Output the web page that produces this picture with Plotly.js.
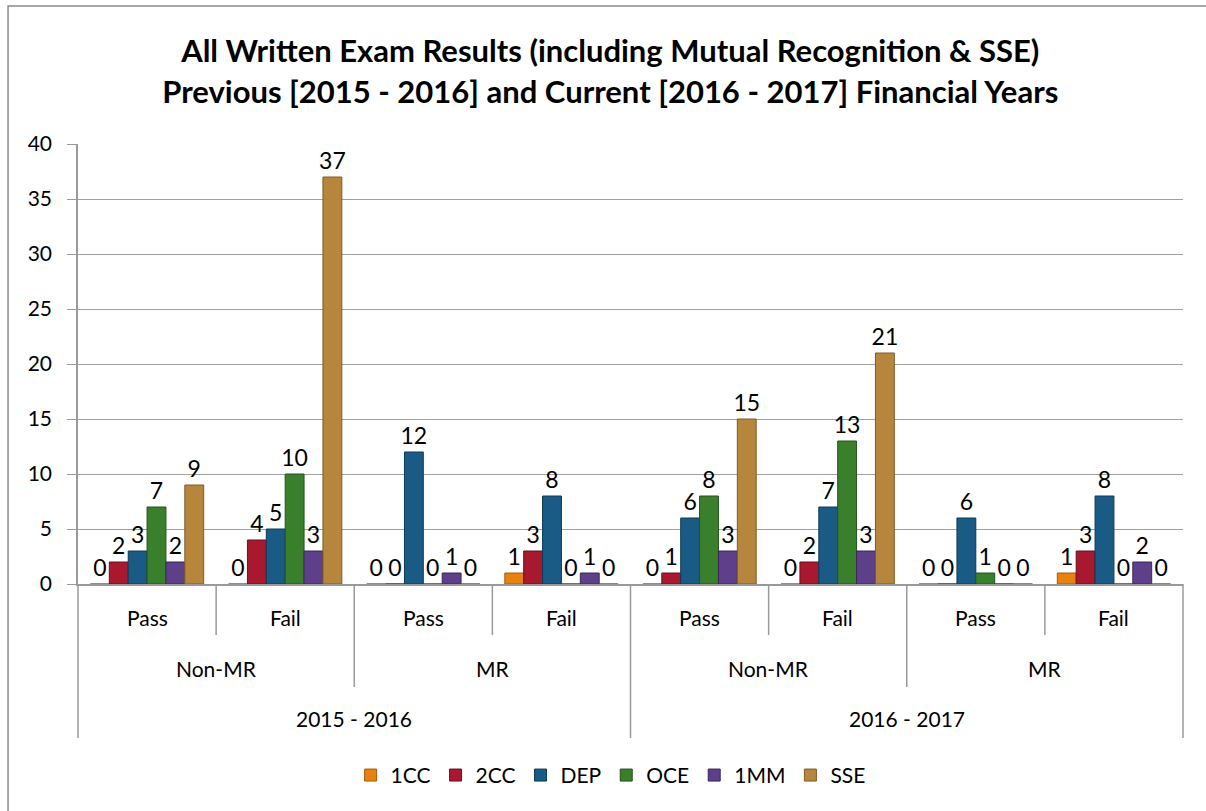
<!DOCTYPE html>
<html>
<head>
<meta charset="utf-8">
<script src="https://cdn.plot.ly/plotly-3.0.1.min.js"></script>
<style>html,body{margin:0;padding:0;background:#fff;}#chart{width:1206px;height:811px;}</style>
</head>
<body>
<div id="chart"></div>
<script>
// ---- Data ----
const years   = ['2015 - 2016', '2016 - 2017'];          // each spans 4 categories
const groups  = ['Non-MR', 'MR', 'Non-MR', 'MR'];          // each spans 2 categories
const results = ['Pass', 'Fail', 'Pass', 'Fail', 'Pass', 'Fail', 'Pass', 'Fail'];

const seriesNames = ['1CC', '2CC', 'DEP', 'OCE', '1MM', 'SSE'];
const v1CC = [0, 0, 0, 1, 0, 0, 0, 1];
const v2CC = [2, 4, 0, 3, 1, 2, 0, 3];
const vDEP = [3, 5, 12, 8, 6, 7, 6, 8];
const vOCE = [7, 10, 0, 0, 8, 13, 1, 0];
const v1MM = [2, 3, 1, 1, 3, 3, 0, 2];
const vSSE = [9, 37, 0, 0, 15, 21, 0, 0];

const yTicks = [0, 5, 10, 15, 20, 25, 30, 35, 40];

// ---- Styles ----
const colors = ['#E8820F', '#A8192F', '#1A5B85', '#3A7F2C', '#5E3F8A', '#B5863C'];
const edges  = ['#A85A06', '#6E0F1E', '#0F3A57', '#24521B', '#3B2759', '#7D5B26'];
const FONT = 'Lato, "Open Sans", sans-serif';

const nCat = results.length;
const perGroup = nCat / groups.length;
const perYear = nCat / years.length;
const keys = results.map((r, i) => years[Math.floor(i / perYear)] + '|' + groups[Math.floor(i / perGroup)] + '|' + r + '|' + i);

const values = [v1CC, v2CC, vDEP, vOCE, v1MM, vSSE];
const traces = seriesNames.map((name, s) => ({
  type: 'bar',
  name: name,
  x: keys,
  y: values[s],
  text: values[s].map(String),
  textposition: 'outside',
  constraintext: 'none',
  cliponaxis: false,
  textfont: {family: FONT, size: 23, color: '#000'},
  marker: {color: colors[s], line: {color: edges[s], width: 1}},
  hoverinfo: 'x+y+name'
}));

// ---- Hierarchical category labels & dividers ----
const annotations = [];
const shapes = [];
const labFont = {family: FONT, size: 21, color: '#000'};
results.forEach((r, i) => annotations.push({
  x: i, xref: 'x', y: -0.077, yref: 'paper', text: r, showarrow: false,
  font: labFont, yanchor: 'middle'
}));
groups.forEach((g, j) => annotations.push({
  x: j * perGroup + (perGroup - 1) / 2, xref: 'x', y: -0.191, yref: 'paper', text: g, showarrow: false,
  font: labFont, yanchor: 'middle'
}));
years.forEach((yv, j) => annotations.push({
  x: j * perYear + (perYear - 1) / 2, xref: 'x', y: -0.305, yref: 'paper', text: yv, showarrow: false,
  font: labFont, yanchor: 'middle'
}));
for (let k = 0; k <= nCat; k++) {
  let y0;
  if (k % perYear === 0) y0 = -0.35;
  else if (k % perGroup === 0) y0 = -0.234;
  else y0 = -0.116;
  shapes.push({type: 'line', xref: 'paper', yref: 'paper', x0: k / nCat, x1: k / nCat, y0: y0, y1: 0,
    line: {color: '#9a9a9a', width: 1.5}});
}
// outer chart border (left & top visible)
shapes.push({type: 'rect', xref: 'paper', yref: 'paper', x0: -0.0633, x1: 1.2, y0: -0.8, y1: 1.3136,
  line: {color: '#8c8c8c', width: 1.5}, fillcolor: 'rgba(0,0,0,0)', layer: 'below'});

const layout = {
  width: 1206, height: 811,
  margin: {l: 78, r: 23, t: 144, b: 227},
  paper_bgcolor: '#fff', plot_bgcolor: '#fff',
  font: {family: FONT, color: '#000'},
  title: {
    text: 'All Written Exam Results (including Mutual Recognition &amp; SSE)<br>Previous [2015 - 2016] and Current [2016 - 2017] Financial Years',
    font: {family: FONT, size: 31, weight: 'bold', color: '#000'},
    x: 0.506, xanchor: 'center', y: 0.923, yanchor: 'middle'
  },
  barmode: 'group', bargap: 0.18, bargroupgap: 0,
  showlegend: true,
  legend: {orientation: 'h', x: 0.482, xanchor: 'center', y: -0.435, yanchor: 'middle',
    font: {family: FONT, size: 21, color: '#000'}, itemwidth: 30, traceorder: 'normal'},
  xaxis: {type: 'category', showticklabels: false, ticks: '', showgrid: false,
    showline: true, linecolor: '#9a9a9a', linewidth: 1.5, range: [-0.5, nCat - 0.5], fixedrange: true},
  yaxis: {range: [0, 40], tickvals: yTicks, ticktext: yTicks.map(String), showgrid: true,
    gridcolor: '#a0a0a0', gridwidth: 1.3, zeroline: false, showline: true, linecolor: '#9a9a9a', linewidth: 1.5,
    ticks: 'outside', ticklen: 9, tickcolor: '#9a9a9a', tickwidth: 1.3, ticklabelstandoff: 11,
    tickfont: {family: FONT, size: 21, color: '#000'}, fixedrange: true},
  annotations: annotations,
  shapes: shapes
};

Plotly.newPlot('chart', traces, layout, {displayModeBar: false, responsive: false});
</script>
</body>
</html>
